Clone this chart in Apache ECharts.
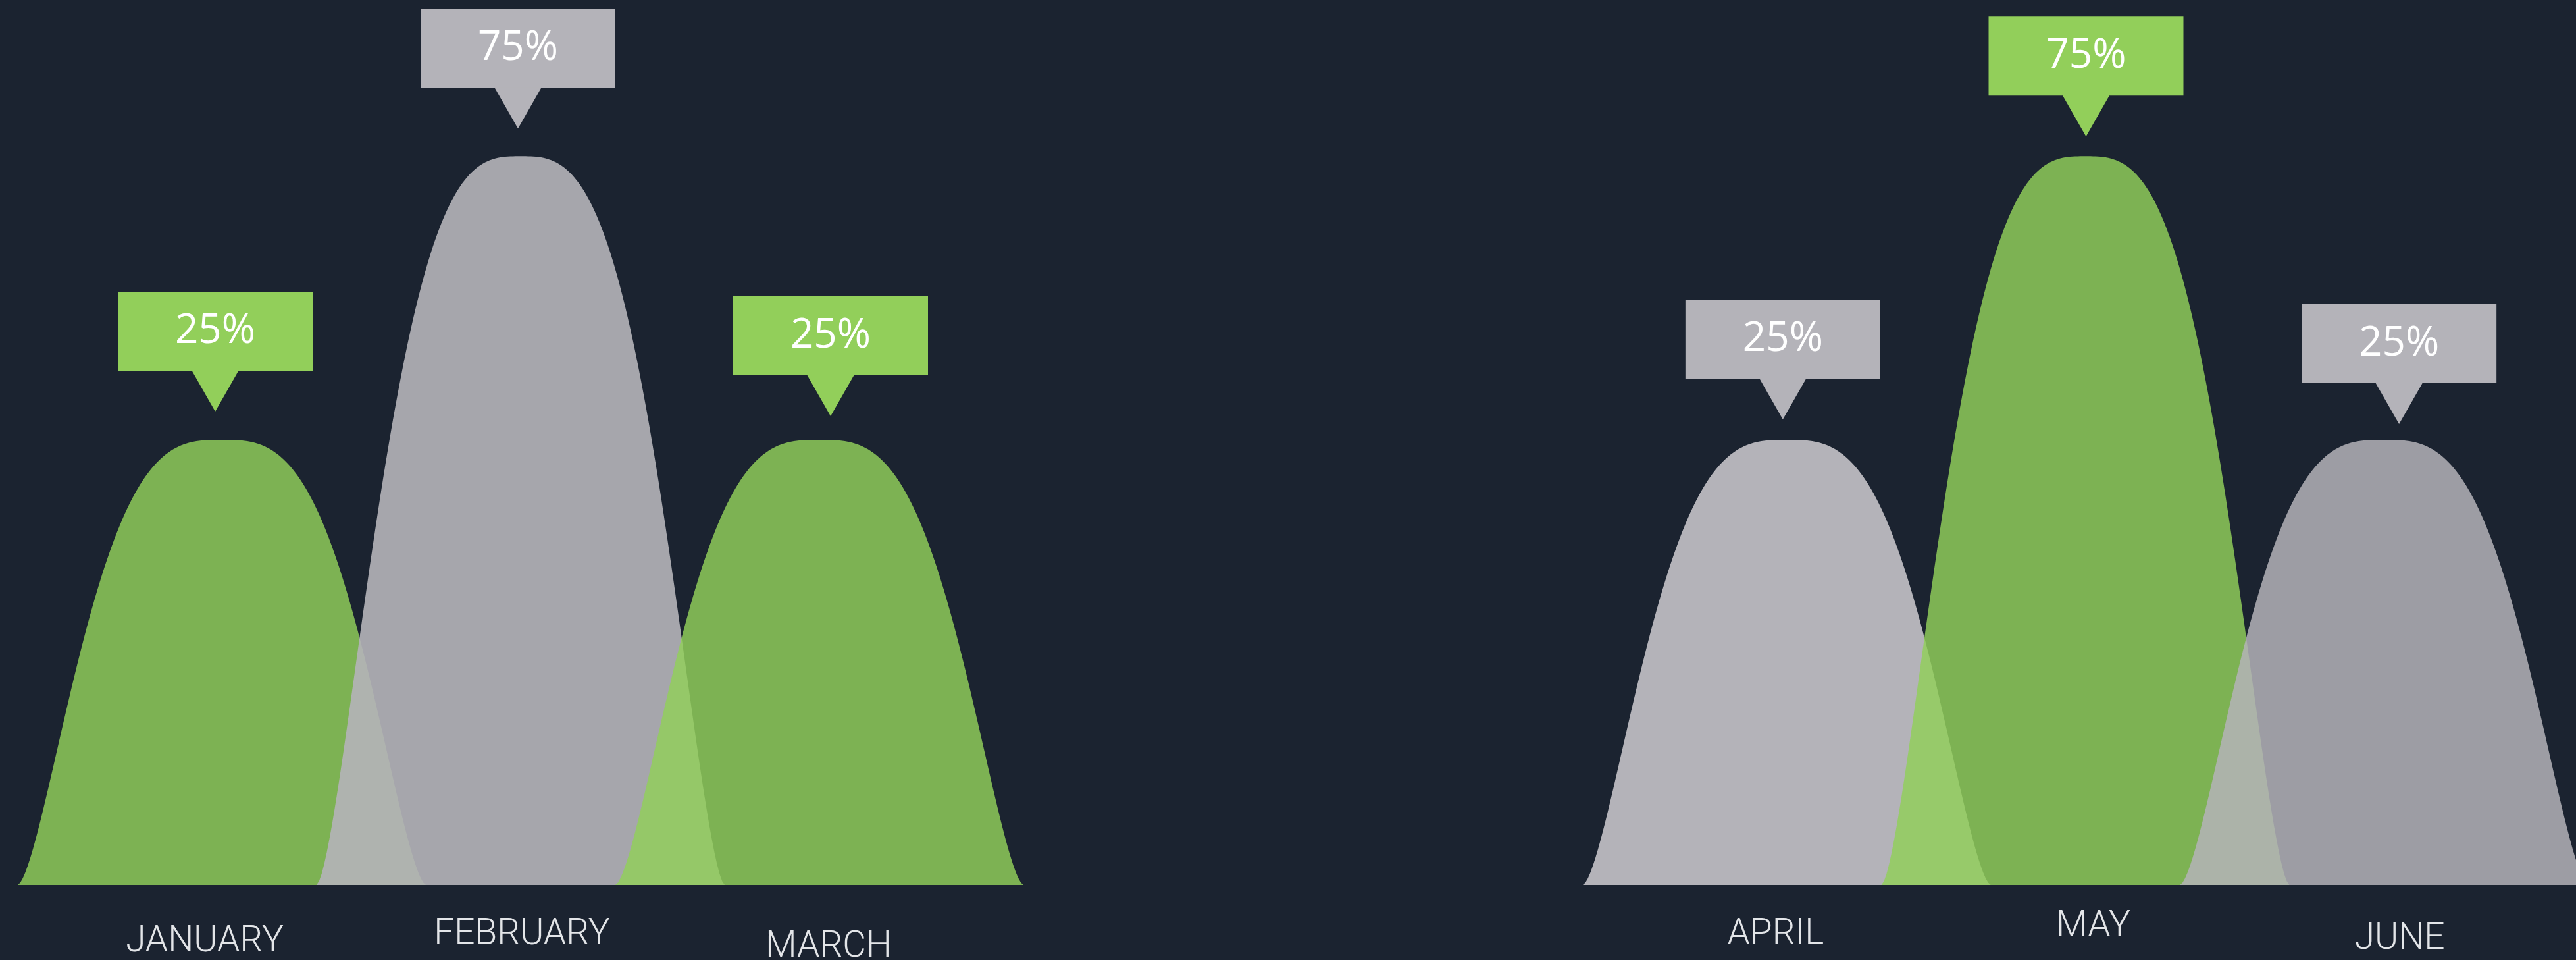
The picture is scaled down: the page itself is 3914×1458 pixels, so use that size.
<!DOCTYPE html>
<html>
<head>
<meta charset="utf-8">
<script src="https://cdn.jsdelivr.net/npm/echarts@6/dist/echarts.min.js"></script>
<style>
  html, body { margin: 0; padding: 0; background: #1b2330; }
  #chart { width: 3914px; height: 1458px; }
</style>
</head>
<body>
<div id="chart"></div>
<script>
// data
var monthsLeft = ['JANUARY', 'FEBRUARY', 'MARCH']
var sharesLeft = [25, 75, 25]
var monthsRight = ['APRIL', 'MAY', 'JUNE']
var sharesRight = [25, 75, 25]

// look
var GREEN = '#92cf5a'
var GREY = '#b4b3b9'
var BG = '#1b2330'
var Y_MIN = -53.5

// the slide was laid out by hand, so captions and callouts sit a few px off: [dx, dy]
var styleLeft = {
    fill: [GREEN, GREY, GREEN],
    alpha: [0.83, 0.91, 0.83],
    boxShift: [[-10, -9], [-4, -8], [17, -2]]
}
var styleRight = {
    fill: [GREY, GREEN, GREY],
    alpha: [1, 0.83, 0.85],
    boxShift: [[-6, 3], [1, 4], [23, 10]]
}
var shiftLeft = [[-26, 10], [2, -1], [14, 18]]
var shiftRight = [[-17, -1], [12, -13], [24, 6]]

// bell outline, u in [-1, 1]
function bell(u) {
    return Math.pow(1 - Math.pow(Math.abs(u), 3.0), 1.6)
}

function makeRender(look) {
    return function(params, api) {
        var i = params.dataIndex
        var val = api.value(1)
        var peak = api.coord([api.value(0), val])
        var base = api.coord([api.value(0), Y_MIN])
        var half = api.size([1, 0])[0] * 0.683
        var h = base[1] - peak[1]
        var pts = []
        for (var k = 0; k <= 160; k++) {
            var u = -1 + k / 80
            pts.push([peak[0] + u * half, base[1] - h * bell(u)])
        }
        var cx = peak[0] + look.boxShift[i][0]
        var tipY = peak[1] - 34 + look.boxShift[i][1]
        var boxBottom = tipY - 62
        var boxTop = boxBottom - 120
        var boxColor = look.fill[i]
        return {
            type: 'group',
            children: [{
                type: 'polygon',
                shape: { points: pts },
                style: {
                    fill: look.fill[i],
                    opacity: look.alpha[i]
                }
            }, {
                type: 'rect',
                z2: 10,
                shape: { x: cx - 148, y: boxTop, width: 296, height: 120 },
                style: { fill: boxColor }
            }, {
                type: 'polygon',
                z2: 10,
                shape: { points: [[cx - 36, boxBottom - 1], [cx + 36, boxBottom - 1], [cx, tipY]] },
                style: { fill: boxColor }
            }, {
                type: 'text',
                z2: 11,
                style: {
                    text: val + '%',
                    x: cx,
                    y: boxTop + 60,
                    align: 'center',
                    verticalAlign: 'middle',
                    fill: '#ffffff',
                    font: '62px "Open Sans"'
                }
            }]
        }
    }
}

function axisData(months, shifts) {
    return months.map(function(m, i) {
        var dx = shifts[i][0]
        var dy = shifts[i][1] + 13
        return {
            value: m,
            textStyle: {
                padding: [dy, dx < 0 ? -2 * dx : 0, 0, dx > 0 ? 2 * dx : 0]
            }
        }
    })
}

var chartDom = document.getElementById('chart')
var myChart = echarts.init(chartDom, null, { renderer: 'canvas' })

var xAxisBase = {
    type: 'category',
    axisLine: { show: false },
    axisTick: { show: false },
    splitLine: { show: false },
    axisLabel: {
        interval: 0,
        color: '#e3e5e8',
        fontFamily: 'Roboto',
        fontWeight: 300,
        fontSize: 55,
        margin: 37
    }
}

var yAxisBase = {
    type: 'value',
    min: Y_MIN,
    max: 100,
    show: false
}

var option = {
    backgroundColor: BG,
    animation: false,
    grid: [
        { left: 110, width: 1362, top: 22, bottom: 114, containLabel: false, outerBoundsMode: 'none' },
        { left: 2488, width: 1361, top: 22, bottom: 114, containLabel: false, outerBoundsMode: 'none' }
    ],
    xAxis: [
        Object.assign({ gridIndex: 0, data: axisData(monthsLeft, shiftLeft) }, xAxisBase),
        Object.assign({ gridIndex: 1, data: axisData(monthsRight, shiftRight) }, xAxisBase)
    ],
    yAxis: [
        Object.assign({ gridIndex: 0 }, yAxisBase),
        Object.assign({ gridIndex: 1 }, yAxisBase)
    ],
    series: [{
        type: 'custom',
        xAxisIndex: 0,
        yAxisIndex: 0,
        renderItem: makeRender(styleLeft),
        data: sharesLeft.map(function(v, i) { return [monthsLeft[i], v] })
    }, {
        type: 'custom',
        xAxisIndex: 1,
        yAxisIndex: 1,
        renderItem: makeRender(styleRight),
        data: sharesRight.map(function(v, i) { return [monthsRight[i], v] })
    }]
}

option && myChart.setOption(option)
</script>
</body>
</html>
